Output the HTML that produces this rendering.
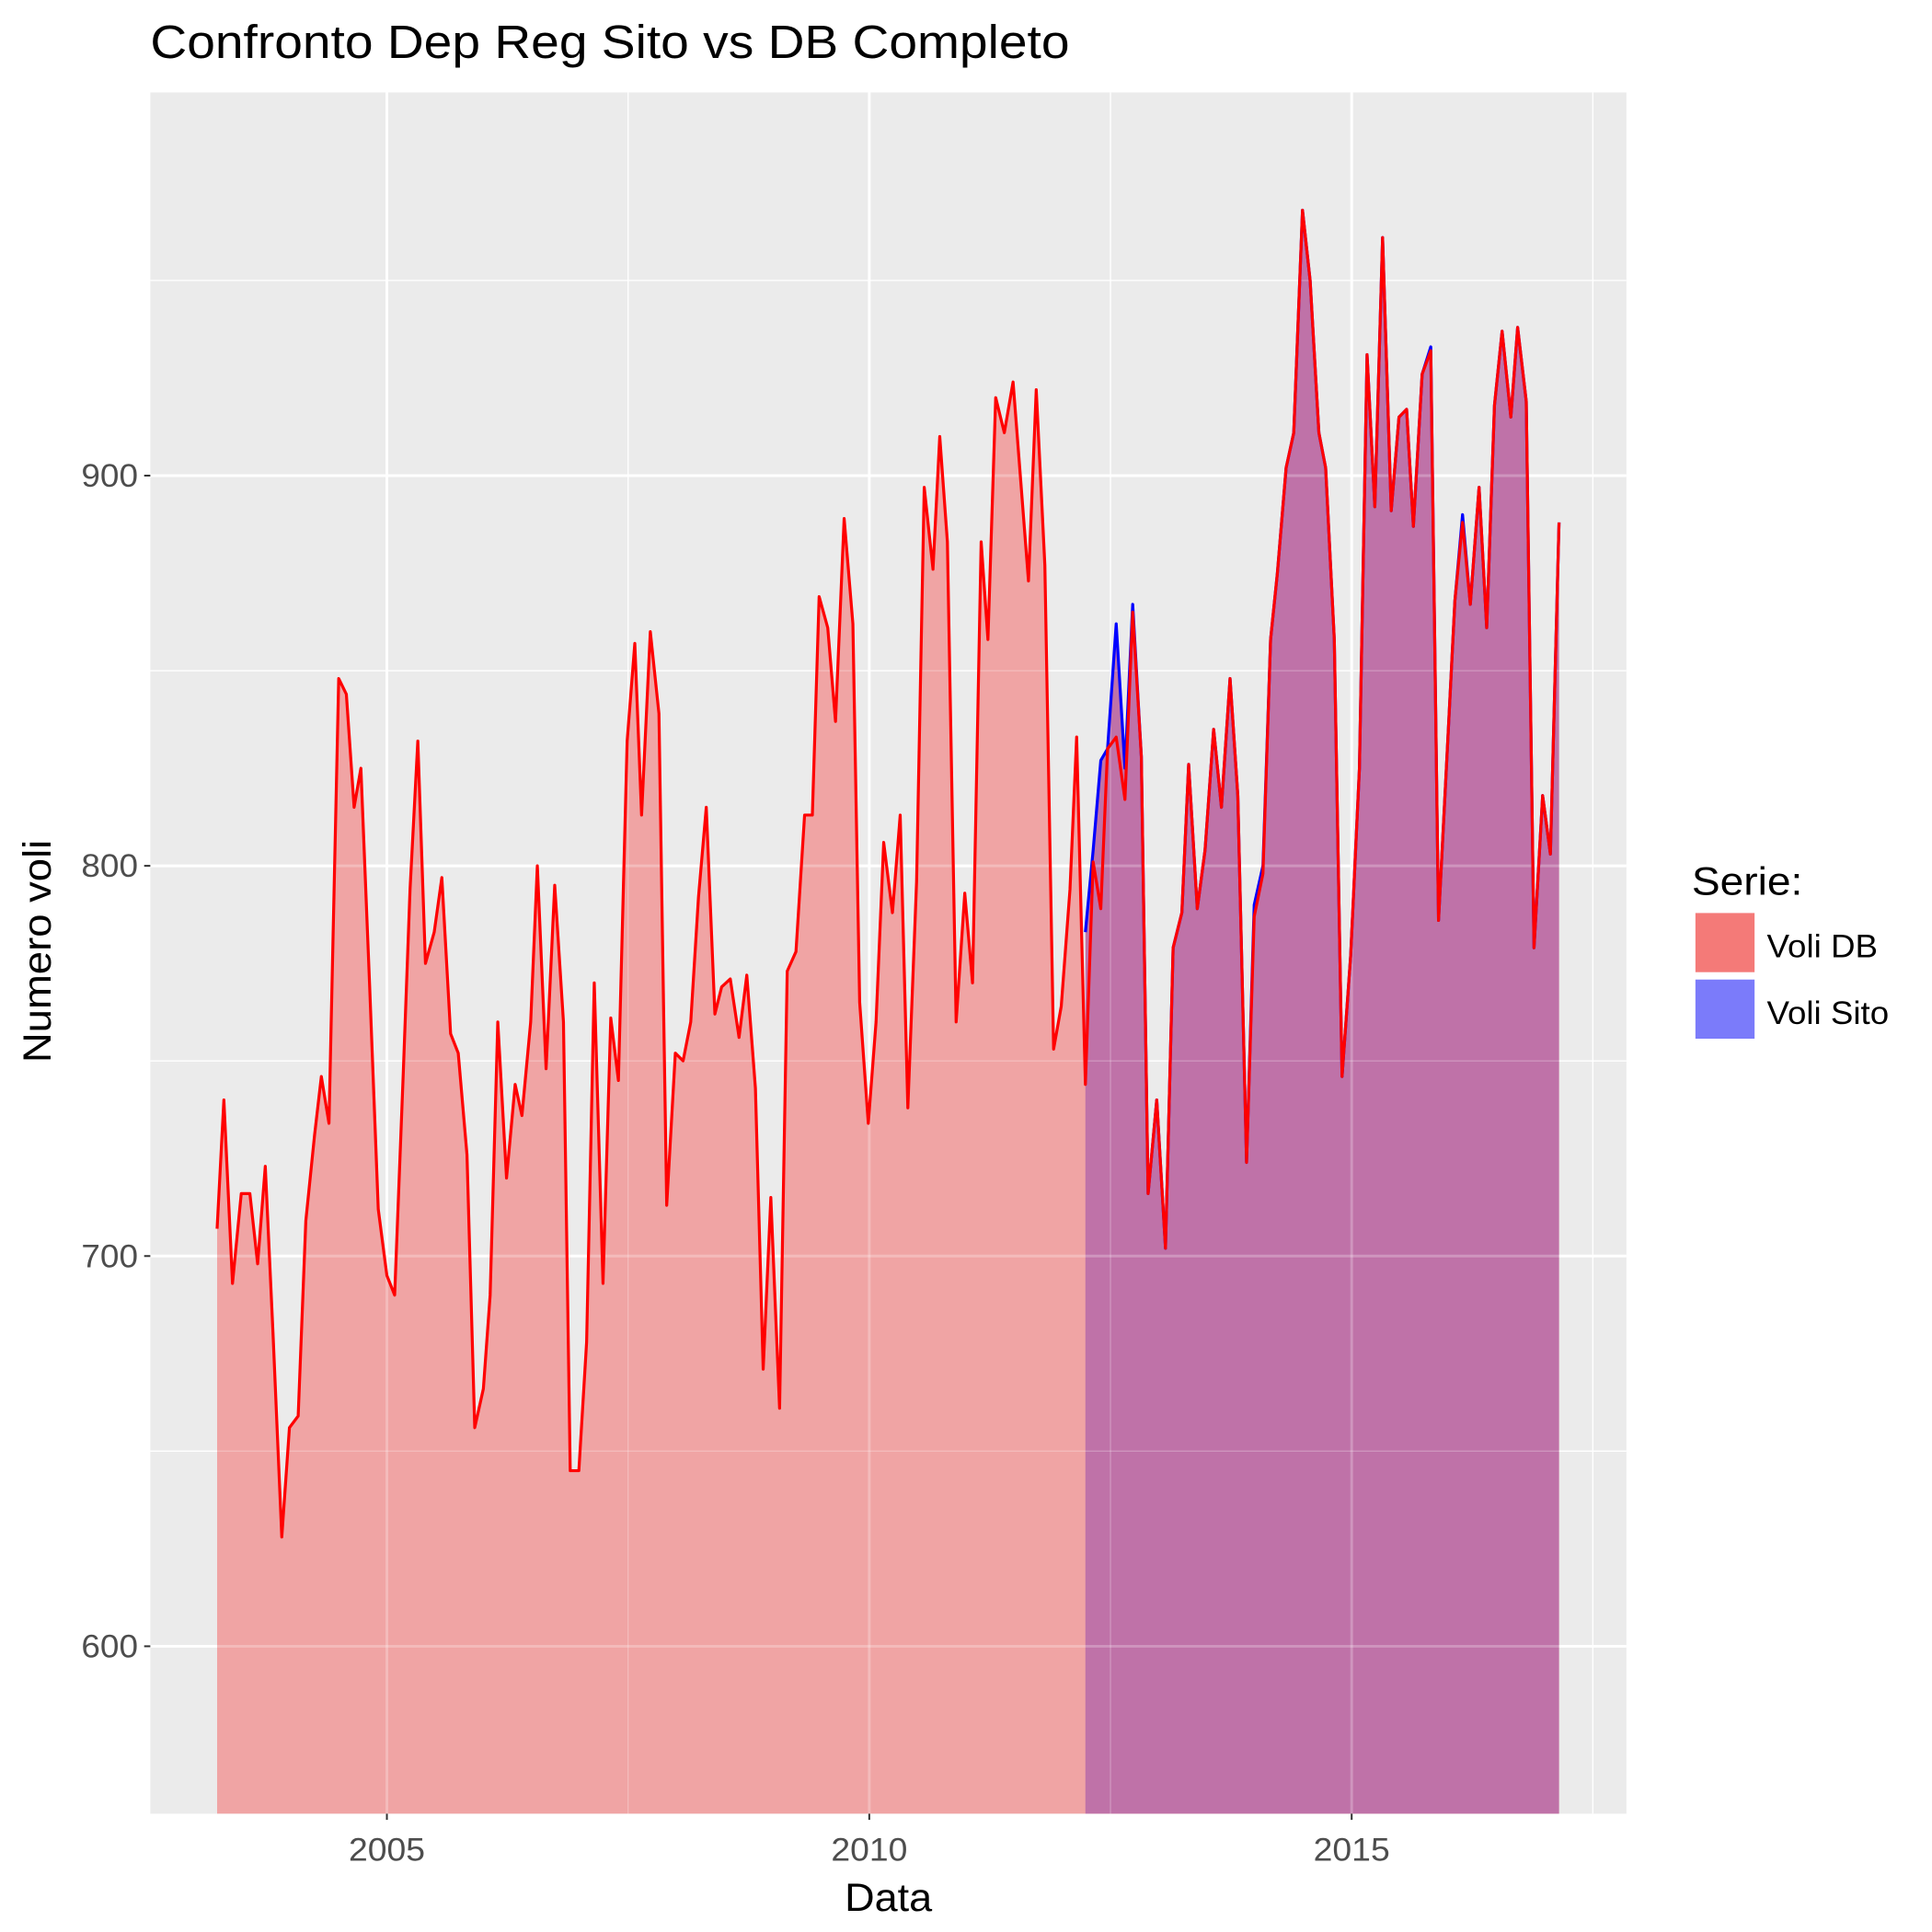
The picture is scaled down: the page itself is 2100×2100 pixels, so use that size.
<!DOCTYPE html>
<html><head><meta charset="utf-8"><style>html,body{margin:0;padding:0;background:#fff}svg{display:block}text{font-family:"Liberation Sans",Arial,sans-serif}</style></head>
<body>
<svg id="chart" width="2100" height="2100" viewBox="0 0 1568 1568" xmlns="http://www.w3.org/2000/svg">
<rect width="1568" height="1568" fill="#fff"/>
<text x="122" y="47" font-size="38" textLength="746" lengthAdjust="spacingAndGlyphs" fill="#000">Confronto Dep Reg Sito vs DB Completo</text>
<rect x="122" y="75" width="1198" height="1397" fill="#ebebeb"/>
<g id="grid"></g>
<g id="areas"></g>
<g id="grid2"></g>
<g id="lines"></g>
<g id="axes"></g>
<text x="721" y="1551" font-size="32" text-anchor="middle" textLength="71" lengthAdjust="spacingAndGlyphs">Data</text>
<text transform="translate(41,772) rotate(-90)" font-size="32" text-anchor="middle" textLength="181" lengthAdjust="spacingAndGlyphs">Numero voli</text>
<g>
<text x="1373" y="726" font-size="32" textLength="90" lengthAdjust="spacingAndGlyphs">Serie:</text>
<rect x="1376" y="741" width="48" height="48" fill="#f47a78"/>
<rect x="1376" y="795" width="48" height="48" fill="#7b7bfa"/>
<text x="1434" y="777" font-size="26" textLength="90" lengthAdjust="spacingAndGlyphs">Voli DB</text>
<text x="1434" y="831" font-size="26" textLength="99" lengthAdjust="spacingAndGlyphs">Voli Sito</text>
</g>
</svg>
<script>
const redDates=[2003.24,2003.31,2003.40,2003.49,2003.58,2003.66,2003.74,2003.82,2003.91,2003.99,2004.08,2004.16,2004.25,2004.32,2004.40,2004.50,2004.58,2004.66,2004.73,2004.82,2004.91,2005.0,2005.08,2005.17,2005.24,2005.32,2005.40,2005.49,2005.57,2005.66,2005.74,2005.83,2005.91,2006.0,2006.07,2006.15,2006.24,2006.33,2006.40,2006.49,2006.56,2006.65,2006.74,2006.83,2006.90,2006.99,2007.07,2007.15,2007.24,2007.32,2007.40,2007.49,2007.57,2007.64,2007.73,2007.82,2007.90,2007.99,2008.07,2008.15,2008.23,2008.31,2008.40,2008.47,2008.56,2008.65,2008.73,2008.82,2008.90,2008.98,2009.07,2009.15,2009.24,2009.33,2009.41,2009.48,2009.57,2009.65,2009.74,2009.83,2009.90,2009.99,2010.07,2010.15,2010.24,2010.32,2010.40,2010.49,2010.57,2010.66,2010.73,2010.81,2010.90,2010.99,2011.07,2011.16,2011.23,2011.31,2011.40,2011.49,2011.56,2011.65,2011.73,2011.82,2011.91,2011.99,2012.08,2012.15,2012.24,2012.32,2012.40,2012.47,2012.56,2012.65,2012.73,2012.82,2012.89,2012.98,2013.07,2013.15,2013.24,2013.31,2013.40,2013.48,2013.57,2013.65,2013.74,2013.82,2013.91,2013.99,2014.08,2014.16,2014.23,2014.32,2014.40,2014.49,2014.57,2014.66,2014.73,2014.82,2014.90,2014.99,2015.08,2015.16,2015.24,2015.32,2015.41,2015.49,2015.57,2015.64,2015.73,2015.82,2015.90,2015.99,2016.07,2016.15,2016.23,2016.32,2016.40,2016.48,2016.56,2016.65,2016.72,2016.81,2016.89,2016.98,2017.06,2017.15];
const redValues=[707,740,693,716,716,698,723,680,628,656,659,709,731,746,734,848,844,815,825,770,712,695,690,747,794,832,775,783,797,757,752,726,656,666,690,760,720,744,736,760,800,748,795,760,645,645,678,770,693,761,745,832,857,813,860,839,713,752,750,760,792,815,762,769,771,756,772,743,671,715,661,773,778,813,813,869,861,837,889,862,765,734,760,806,788,813,738,796,897,876,910,883,760,793,770,883,858,920,911,924,902,873,922,877,753,764,794,833,744,801,789,830,833,817,865,828,716,740,702,779,788,826,789,804,835,815,848,818,724,787,798,858,875,902,911,968,950,911,902,858,746,777,825,931,892,961,891,915,917,887,926,932,786,829,868,888,867,897,861,918,937,915,938,919,779,818,803,888];
const blueValues=[783,804,827,830,862,825,867,828,716,740,702,779,788,826,789,804,835,815,848,818,724,790,800,858,875,902,911,968,950,911,902,858,746,777,825,931,892,961,891,915,917,887,926,933,786,829,868,890,867,897,861,918,937,915,938,919,779,818,803,888];
const blueDates=redDates.slice(redDates.length-blueValues.length);
const xTicks=[2005,2010,2015];
const xMinor=[2002.5,2007.5,2012.5,2017.5];
const yTicks=[600,700,800,900];
const yMinor=[650,750,850,950];

const NS='http://www.w3.org/2000/svg';
const PL=122,PR=1320,PT=75,PB=1472;
function xs(d){return 314+(d-2005)*78.3;}
function ys(v){return 386-(v-900)*3.167;}
function mk(tag,attrs,parent){const e=document.createElementNS(NS,tag);for(const k in attrs)e.setAttribute(k,attrs[k]);parent.appendChild(e);return e;}
const grid=document.getElementById('grid'),grid2=document.getElementById('grid2'),areas=document.getElementById('areas'),lines=document.getElementById('lines'),axes=document.getElementById('axes');
function gl(x1,x2,y1,y2,w,name){
const l=mk('line',{x1:x1,x2:x2,y1:y1,y2:y2,stroke:'#fff','stroke-width':w},grid);


mk('line',{x1:x1,x2:x2,y1:y1,y2:y2,stroke:'#fff','stroke-width':w,'stroke-opacity':0.25},grid2);}
xMinor.forEach(d=>{const x=xs(d);if(x<PL||x>PR)return;gl(x,x,PT,PB,1,'x-minor-gridline');});
yMinor.forEach(v=>{const y=ys(v);gl(PL,PR,y,y,1,'y-minor-gridline');});
xTicks.forEach(d=>{const x=xs(d);gl(x,x,PT,PB,2.2,'x-gridline');
const t=mk('line',{x1:x,x2:x,y1:PB,y2:PB+5,stroke:'#333','stroke-width':1.5},axes);


const tx=mk('text',{x:x,y:PB+38,'font-size':26,fill:'#4d4d4d','text-anchor':'middle',textLength:62,lengthAdjust:'spacingAndGlyphs'},axes);tx.textContent=d;

});
yTicks.forEach(v=>{const y=ys(v);gl(PL,PR,y,y,2.2,'y-gridline');
const t=mk('line',{x1:PL-5,x2:PL,y1:y,y2:y,stroke:'#333','stroke-width':1.5},axes);


const tx=mk('text',{x:PL-10,y:y+9,'font-size':26,fill:'#4d4d4d','text-anchor':'end',textLength:46,lengthAdjust:'spacingAndGlyphs'},axes);tx.textContent=v;

});
function pts(ds,vs){return ds.map((d,i)=>xs(d).toFixed(1)+','+ys(vs[i]).toFixed(1));}
function area(ds,vs,fill,name){const p=pts(ds,vs);const d='M'+xs(ds[0]).toFixed(1)+','+PB+' L'+p.join(' L')+' L'+xs(ds[ds.length-1]).toFixed(1)+','+PB+' Z';
const e=mk('path',{d:d,fill:fill},areas);

}
function line(ds,vs,col,name){const e=mk('polyline',{points:pts(ds,vs).join(' '),fill:'none',stroke:col,'stroke-width':2.4,'stroke-linejoin':'round'},lines);

}
area(redDates,redValues,'#f0a4a4','area-voli-db');
area(blueDates,blueValues,'#bf72a8','area-voli-sito');
line(blueDates,blueValues,'#0000ff','line-voli-sito');
line(redDates,redValues,'#ff0000','line-voli-db');
</script>
</body></html>
